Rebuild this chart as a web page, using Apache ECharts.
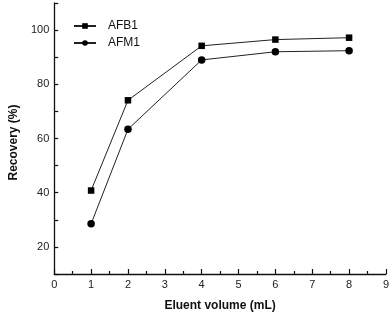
<!DOCTYPE html>
<html>
<head>
<meta charset="utf-8">
<script src="https://cdn.jsdelivr.net/npm/echarts@6/dist/echarts.min.js"></script>
<style>html,body{margin:0;padding:0;background:#fff}#c{width:392px;height:317px}</style>
</head>
<body>
<div id="c"></div>
<script>
var xValues = [1, 2, 4, 6, 8];
var afb1 = [40.8, 74.1, 94.2, 96.5, 97.2];
var afm1 = [28.5, 63.4, 89.0, 92.0, 92.4];
var seriesNames = ['AFB1', 'AFM1'];
var xTitle = 'Eluent volume (mL)';
var yTitle = 'Recovery (%)';

function pairs(ys) { return xValues.map(function (x, i) { return [x, ys[i]]; }); }

var chart = echarts.init(document.getElementById('c'), null, {renderer: 'canvas'});
var axisFont = {fontFamily: 'Liberation Sans, Arial, sans-serif', fontSize: 11, color: '#222'};
chart.setOption({
  animation: false,
  grid: {left: 49.5, right: 4, top: 3, bottom: 39.5, containLabel: false},
  legend: {
    left: 68, top: 15, orient: 'vertical', itemGap: 5, itemWidth: 22, itemHeight: 7,
    textStyle: {fontFamily: 'Liberation Sans, Arial, sans-serif', fontSize: 12, color: '#111', padding: [0, 0, 0, 7]},
    data: seriesNames
  },
  xAxis: {
    type: 'value', min: 0, max: 9, interval: 1,
    name: xTitle, nameLocation: 'middle', nameGap: 26,
    nameTextStyle: {fontFamily: 'Liberation Sans, Arial, sans-serif', fontSize: 12, fontWeight: 'bold', color: '#111'},
    axisLine: {lineStyle: {color: '#111', width: 1.3}},
    axisTick: {inside: true, length: 5, lineStyle: {color: '#111', width: 1.2}},
    minorTick: {show: true, splitNumber: 2, length: 3, lineStyle: {color: '#111', width: 1.2}},
    axisLabel: Object.assign({margin: 5}, axisFont),
    splitLine: {show: false}
  },
  yAxis: {
    type: 'value', min: 10, max: 110, interval: 10,
    name: yTitle, nameLocation: 'middle', nameGap: 34, nameRotate: 90,
    nameTextStyle: {fontFamily: 'Liberation Sans, Arial, sans-serif', fontSize: 12, fontWeight: 'bold', color: '#111', padding: [0, 8, 0, 0]},
    axisLine: {lineStyle: {color: '#111', width: 1.3}},
    axisTick: {inside: true, length: 4, lineStyle: {color: '#111', width: 1.2}},
    axisLabel: Object.assign({margin: 5, formatter: function (v) { return v % 20 === 0 && v <= 100 ? String(v) : ''; }}, axisFont),
    splitLine: {show: false}
  },
  series: [
    {name: seriesNames[0], type: 'line', data: pairs(afb1), symbol: 'rect', symbolSize: 6.5,
     itemStyle: {color: '#000'}, lineStyle: {color: '#222', width: 1}},
    {name: seriesNames[1], type: 'line', data: pairs(afm1), symbol: 'circle', symbolSize: 7.5,
     itemStyle: {color: '#000'}, lineStyle: {color: '#222', width: 1}}
  ]
});
</script>
</body>
</html>
